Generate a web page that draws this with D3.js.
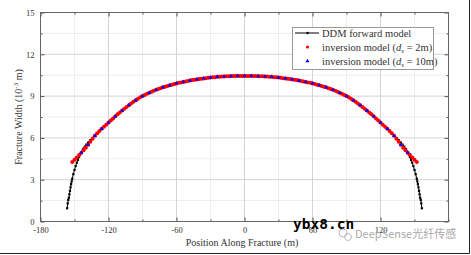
<!DOCTYPE html>
<html lang="en">
    <head>
        <meta charset="UTF-8" />
        <title>Fracture Width</title>
        <script src="https://d3js.org/d3.v7.js"></script>
    </head>

    <body>
        <div id="dataviz"></div>
    </body>

    <script>
        // DDM forward model (position m, width 1e-3 m)
        const ddmX = [-156.5, -156, -155.5, -155, -154.5, -154, -153.5, -153, -152.5, -152, -151, -150, -149, -148, -147, -146, -145, -144, -142.5, -141, -139.5, -138, -136, -134, -132, -130, -128, -126, -124, -122, -120, -117, -114, -111, -108, -105, -102, -99, -96, -93, -90, -85, -80, -75, -70, -65, -60, -55, -50, -45, -40, -35, -30, -25, -20, -15, -10, -5, 0,
            5, 10, 15, 20, 25, 30, 35, 40, 45, 50, 55, 60, 65, 70, 75, 80, 85, 90, 93, 96, 99, 102, 105, 108, 111, 114, 117, 120, 122, 124, 126, 128, 130, 132, 134, 136, 138, 139.5, 141, 142.5, 144, 145, 146, 147, 148, 149, 150, 151, 152, 152.5, 153, 153.5, 154, 154.5, 155, 155.5, 156, 156.5];
        const ddmW = [0.95, 1.3, 1.55, 1.7, 1.95, 2.2, 2.45, 2.68, 2.88, 3.07, 3.4, 3.7, 3.98, 4.22, 4.42, 4.62, 4.8, 4.97, 5.2, 5.37, 5.52, 5.66, 5.84, 6.0, 6.17, 6.33, 6.5, 6.65, 6.8, 6.95, 7.1, 7.33, 7.55, 7.76, 7.96, 8.16, 8.35, 8.53, 8.7, 8.86, 9.0, 9.2, 9.38, 9.54, 9.68, 9.8, 9.91, 10.0, 10.09, 10.16, 10.23, 10.28, 10.33, 10.37, 10.4, 10.42, 10.44, 10.45, 10.45,
            10.45, 10.44, 10.42, 10.4, 10.37, 10.33, 10.28, 10.23, 10.16, 10.09, 10.0, 9.91, 9.8, 9.68, 9.54, 9.38, 9.2, 9.0, 8.86, 8.7, 8.53, 8.35, 8.16, 7.96, 7.76, 7.55, 7.33, 7.1, 6.95, 6.8, 6.65, 6.5, 6.33, 6.17, 6.0, 5.84, 5.66, 5.52, 5.37, 5.2, 4.97, 4.8, 4.62, 4.42, 4.22, 3.98, 3.7, 3.4, 3.07, 2.88, 2.68, 2.45, 2.2, 1.95, 1.7, 1.55, 1.3, 0.95];

        // inversion model, ds = 2m
        const inv2X = [-152, -150, -148, -146, -144, -142, -140, -138, -136, -134, -132, -130, -128, -126, -124, -122, -120, -118, -116, -114, -112, -110, -108, -106, -104, -102, -100, -98, -96, -94, -92, -90, -88, -86, -84, -82, -80, -78, -76, -74, -72, -70, -68, -66, -64, -62, -60, -58, -56, -54, -52, -50, -48, -46, -44, -42, -40, -38, -36, -34, -32, -30, -28, -26, -24, -22, -20, -18, -16, -14, -12, -10, -8, -6, -4, -2, 0,
            2, 4, 6, 8, 10, 12, 14, 16, 18, 20, 22, 24, 26, 28, 30, 32, 34, 36, 38, 40, 42, 44, 46, 48, 50, 52, 54, 56, 58, 60, 62, 64, 66, 68, 70, 72, 74, 76, 78, 80, 82, 84, 86, 88, 90, 92, 94, 96, 98, 100, 102, 104, 106, 108, 110, 112, 114, 116, 118, 120, 122, 124, 126, 128, 130, 132, 134, 136, 138, 140, 142, 144, 146, 148, 150, 152];
        const inv2W = [4.27, 4.43, 4.6, 4.77, 4.94, 5.11, 5.3, 5.5, 5.72, 5.94, 6.15, 6.33, 6.5, 6.65, 6.8, 6.95, 7.1, 7.25, 7.4, 7.55, 7.69, 7.83, 7.96, 8.09, 8.22, 8.35, 8.47, 8.59, 8.7, 8.81, 8.91, 9.0, 9.08, 9.16, 9.24, 9.31, 9.38, 9.45, 9.51, 9.57, 9.63, 9.68, 9.73, 9.78, 9.82, 9.87, 9.91, 9.95, 9.98, 10.02, 10.05, 10.09, 10.12, 10.15, 10.18, 10.2, 10.23, 10.25, 10.27, 10.29, 10.31, 10.33, 10.35, 10.36, 10.38, 10.39, 10.4, 10.41, 10.42, 10.43, 10.43, 10.44, 10.44, 10.45, 10.45, 10.45, 10.45,
            10.45, 10.45, 10.45, 10.44, 10.44, 10.43, 10.43, 10.42, 10.41, 10.4, 10.39, 10.38, 10.36, 10.35, 10.33, 10.31, 10.29, 10.27, 10.25, 10.23, 10.2, 10.18, 10.15, 10.12, 10.09, 10.05, 10.02, 9.98, 9.95, 9.91, 9.87, 9.82, 9.78, 9.73, 9.68, 9.63, 9.57, 9.51, 9.45, 9.38, 9.31, 9.24, 9.16, 9.08, 9.0, 8.91, 8.81, 8.7, 8.59, 8.47, 8.35, 8.22, 8.09, 7.96, 7.83, 7.69, 7.55, 7.4, 7.25, 7.1, 6.95, 6.8, 6.65, 6.5, 6.33, 6.15, 5.94, 5.72, 5.5, 5.3, 5.11, 4.94, 4.77, 4.6, 4.43, 4.27];

        // inversion model, ds = 10m
        const inv10X = [-144, -138, -132, -126, -120, -114, -108, -102, -96, -90, -84, -78, -72, -66, -60, -54, -48, -42, -36, -30, -24, -18, -12, -6, 0,
            6, 12, 18, 24, 30, 36, 42, 48, 54, 60, 66, 72, 78, 84, 90, 96, 102, 108, 114, 120, 126, 132, 138, 144];
        const inv10W = [4.94, 5.5, 6.15, 6.65, 7.1, 7.55, 7.96, 8.35, 8.7, 9.0, 9.24, 9.45, 9.63, 9.78, 9.91, 10.02, 10.12, 10.2, 10.27, 10.33, 10.38, 10.41, 10.43, 10.45, 10.45,
            10.45, 10.43, 10.41, 10.38, 10.33, 10.27, 10.2, 10.12, 10.02, 9.91, 9.78, 9.63, 9.45, 9.24, 9.0, 8.7, 8.35, 7.96, 7.55, 7.1, 6.65, 6.15, 5.5, 4.94];

        const xTicks = [-180, -120, -60, 0, 60, 120];
        const xTickLabels = ["-180", "-120", "-60", "0", "60", "120"];
        const yTicks = [0, 3, 6, 9, 12, 15];
        const legendLabels = ["DDM forward model", "inversion model (", "inversion model ("];
        const legendDs = ["", "2m", "10m"];

        const W = 471, H = 255;
        const svg = d3.select("#dataviz")
            .append("svg")
            .attr("width", W)
            .attr("height", H);

        svg.append("rect").attr("width", W).attr("height", H).attr("fill", "white");

        const x = d3.scaleLinear().domain([-180, 180]).range([40.5, 448.5]);
        const y = d3.scaleLinear().domain([0, 15]).range([221.5, 12.5]);

        // grid
        const minorX = d3.range(-150, 180, 60), minorY = d3.range(1.5, 15, 3);
        svg.append("g").selectAll("line").data(minorX).join("line")
            .attr("x1", d => x(d)).attr("x2", d => x(d)).attr("y1", y(0)).attr("y2", y(15))
            .attr("stroke", "#eeeeee").attr("stroke-width", 1);
        svg.append("g").selectAll("line").data(minorY).join("line")
            .attr("y1", d => y(d)).attr("y2", d => y(d)).attr("x1", x(-180)).attr("x2", x(180))
            .attr("stroke", "#eeeeee").attr("stroke-width", 1);
        svg.append("g").selectAll("line").data([-120, -60, 0, 60, 120]).join("line")
            .attr("x1", d => x(d)).attr("x2", d => x(d)).attr("y1", y(0)).attr("y2", y(15))
            .attr("stroke", "#d4d4d4").attr("stroke-width", 1);
        svg.append("g").selectAll("line").data([3, 6, 9, 12]).join("line")
            .attr("y1", d => y(d)).attr("y2", d => y(d)).attr("x1", x(-180)).attr("x2", x(180))
            .attr("stroke", "#d4d4d4").attr("stroke-width", 1);

        // axes, ticks inward
        const tickFont = "Liberation Serif";
        function styleAxis(g) {
            g.select(".domain").remove();
            g.selectAll("line").attr("stroke", "#555");
            g.selectAll("text").attr("font-family", tickFont).attr("font-size", 8.5).attr("fill", "#333");
        }
        svg.append("g").attr("transform", `translate(0,${y(0)})`)
            .call(d3.axisBottom(x).tickValues(xTicks).tickFormat((d, i) => xTickLabels[i]).tickSize(-4).tickPadding(5))
            .call(styleAxis);
        svg.append("g").attr("transform", `translate(0,${y(0)})`)
            .call(d3.axisBottom(x).tickValues(d3.range(-150, 180, 60).concat([180])).tickFormat("").tickSize(-2))
            .call(styleAxis);
        svg.append("g").attr("transform", `translate(0,${y(15)})`)
            .call(d3.axisTop(x).tickValues(xTicks).tickFormat("").tickSize(-4))
            .call(styleAxis);
        svg.append("g").attr("transform", `translate(0,${y(15)})`)
            .call(d3.axisTop(x).tickValues(d3.range(-150, 180, 60)).tickFormat("").tickSize(-2))
            .call(styleAxis);
        svg.append("g").attr("transform", `translate(${x(-180)},0)`)
            .call(d3.axisLeft(y).tickValues(yTicks).tickSize(-4).tickPadding(6))
            .call(styleAxis);
        svg.append("g").attr("transform", `translate(${x(-180)},0)`)
            .call(d3.axisLeft(y).tickValues(minorY).tickFormat("").tickSize(-2))
            .call(styleAxis);
        svg.append("g").attr("transform", `translate(${x(180)},0)`)
            .call(d3.axisRight(y).tickValues(yTicks).tickFormat("").tickSize(-4))
            .call(styleAxis);
        svg.append("g").attr("transform", `translate(${x(180)},0)`)
            .call(d3.axisRight(y).tickValues(minorY).tickFormat("").tickSize(-2))
            .call(styleAxis);

        svg.append("rect")
            .attr("x", x(-180)).attr("y", y(15))
            .attr("width", x(180) - x(-180)).attr("height", y(0) - y(15))
            .attr("fill", "none").attr("stroke", "#666").attr("stroke-width", 1);

        // axis titles
        svg.append("text")
            .attr("x", 242).attr("y", 246)
            .attr("text-anchor", "middle")
            .attr("font-family", tickFont).attr("font-size", 10).attr("fill", "#333")
            .text("Position Along Fracture (m)");
        const yl = svg.append("text")
            .attr("transform", "translate(22,117) rotate(-90)")
            .attr("text-anchor", "middle")
            .attr("font-family", tickFont).attr("font-size", 10).attr("fill", "#333");
        yl.append("tspan").text("Fracture Width (10");
        yl.append("tspan").attr("dy", -4).attr("font-size", 7).text("-3");
        yl.append("tspan").attr("dy", 4).text(" m)");

        // DDM forward model
        const ddm = ddmX.map((d, i) => [d, ddmW[i]]);
        svg.append("path").datum(ddm)
            .attr("fill", "none").attr("stroke", "black").attr("stroke-width", 1)
            .attr("d", d3.line().x(d => x(d[0])).y(d => y(d[1])));
        svg.append("g").selectAll("rect").data(ddm).join("rect")
            .attr("x", d => x(d[0]) - 1.1).attr("y", d => y(d[1]) - 1.1)
            .attr("width", 2.2).attr("height", 2.2).attr("fill", "black");

        // inversion ds = 2m
        svg.append("g").selectAll("circle").data(inv2X.map((d, i) => [d, inv2W[i]])).join("circle")
            .attr("cx", d => x(d[0])).attr("cy", d => y(d[1]))
            .attr("r", 2).attr("fill", "#ff0000");

        // inversion ds = 10m
        const tri = d3.symbol().type(d3.symbolTriangle).size(7);
        svg.append("g").selectAll("path").data(inv10X.map((d, i) => [d, inv10W[i]])).join("path")
            .attr("transform", d => `translate(${x(d[0])},${y(d[1])})`)
            .attr("d", tri).attr("fill", "#0000ff");

        // legend
        const lg = svg.append("g");
        lg.append("rect").attr("x", 292.5).attr("y", 27.5).attr("width", 141).attr("height", 42)
            .attr("fill", "white").attr("stroke", "#999").attr("stroke-width", 1);
        const rows = [33, 47, 61];
        lg.append("line").attr("x1", 295).attr("x2", 319).attr("y1", rows[0]).attr("y2", rows[0])
            .attr("stroke", "black").attr("stroke-width", 1);
        lg.append("rect").attr("x", 306.5).attr("y", rows[0] - 1.1).attr("width", 2.2).attr("height", 2.2).attr("fill", "black");
        lg.append("circle").attr("cx", 307.5).attr("cy", rows[1]).attr("r", 1.6).attr("fill", "#ff0000");
        lg.append("path").attr("transform", `translate(307.5,${rows[2]})`).attr("d", tri).attr("fill", "#0000ff");
        legendLabels.forEach((t, i) => {
            const tx = lg.append("text").attr("x", 322).attr("y", rows[i] + 3.5)
                .attr("font-family", tickFont).attr("font-size", 10.5).attr("fill", "#333");
            tx.append("tspan").text(t);
            if (legendDs[i]) {
                tx.append("tspan").attr("font-style", "italic").text("d");
                tx.append("tspan").attr("dy", 2).attr("font-size", 7).attr("font-style", "italic").text("s");
                tx.append("tspan").attr("dy", -2).text(" = " + legendDs[i] + ")");
            }
        });

        // watermarks
        svg.append("text").attr("x", 293).attr("y", 229)
            .attr("font-family", "DejaVu Sans Mono").attr("font-weight", "bold").attr("font-size", 14.5)
            .attr("fill", "black").text("ybx8.cn");
        svg.append("circle").attr("cx", 343).attr("cy", 233).attr("r", 4).attr("fill", "none").attr("stroke", "#bbb");
        svg.append("circle").attr("cx", 348).attr("cy", 237).attr("r", 3.5).attr("fill", "none").attr("stroke", "#bbb");
        svg.append("text").attr("x", 355).attr("y", 238)
            .attr("font-family", "Noto Sans CJK SC").attr("font-size", 11)
            .attr("fill", "#aaa").text("DeepSense光纤传感");

        // image border (right and bottom)
        svg.append("line").attr("x1", 0).attr("x2", 469.5).attr("y1", 253.5).attr("y2", 253.5).attr("stroke", "#222");
        svg.append("line").attr("x1", 469.5).attr("x2", 469.5).attr("y1", 0).attr("y2", 253.5).attr("stroke", "#222");
    </script>

    <style>
        body { margin: 0; }
        svg { display: block; }
    </style>
</html>
